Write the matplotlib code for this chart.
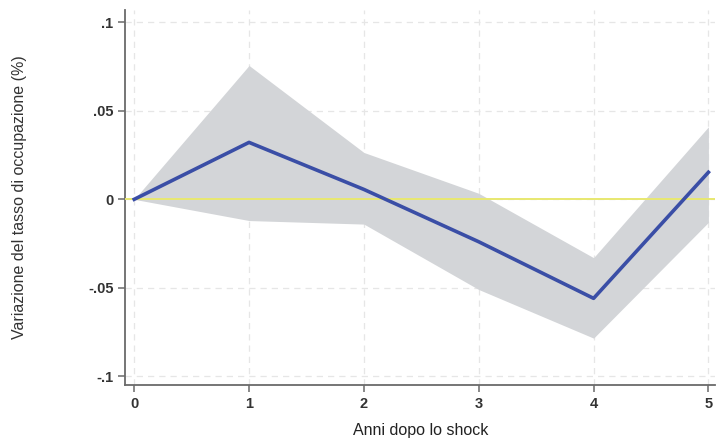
import numpy as np
import matplotlib
matplotlib.use("Agg")
import matplotlib.pyplot as plt

plt.rcParams['font.family'] = ['Liberation Sans', 'DejaVu Sans']

anni = [0, 1, 2, 3, 4, 5]
stima = [0.0, 0.0322, 0.0056, -0.024, -0.056, 0.0153]
ci_alto = [0.0, 0.0757, 0.0265, 0.0034, -0.033, 0.041]
ci_basso = [0.0, -0.012, -0.014, -0.051, -0.0785, -0.013]

yticks = [-0.1, -0.05, 0, 0.05, 0.1]
ylabels = ['-.1', '-.05', '0', '.05', '.1']

fig = plt.figure(figsize=(7.24, 4.4), dpi=100)
ax = fig.add_axes([0.173, 0.125, 0.815, 0.852])

ax.fill_between(anni, ci_basso, ci_alto, color='#d3d5d8', linewidth=0, zorder=2)
ax.axhline(0, color='#e8e870', linewidth=1.4, zorder=3)
ax.plot(anni, stima, color='#3a4ea6', linewidth=2.6, zorder=4)

ax.set_xlim(-0.078, 5.06)
ax.set_ylim(-0.105, 0.107)
ax.set_xticks(anni)
ax.set_yticks(yticks)
ax.set_yticklabels(ylabels)

ax.grid(True, color='#e6e6e6', linestyle=(0, (5, 4)), linewidth=0.9, zorder=0)
ax.set_axisbelow(True)

for s in ['top', 'right']:
    ax.spines[s].set_visible(False)
for s in ['left', 'bottom']:
    ax.spines[s].set_color('#6a6a6a')
    ax.spines[s].set_linewidth(1.3)

ax.tick_params(axis='both', direction='out', length=5, width=1.1, color='#6a6a6a',
               labelsize=10.5, labelcolor='#333333')
for lab in ax.get_xticklabels() + ax.get_yticklabels():
    lab.set_fontweight('bold')

ax.set_ylabel('Variazione del tasso di occupazione (%)', fontsize=11.5, color='#333333', labelpad=44)
ax.set_xlabel('Anni dopo lo shock', fontsize=11.5, color='#222222', labelpad=9)

fig.savefig('out.png', dpi=100)
